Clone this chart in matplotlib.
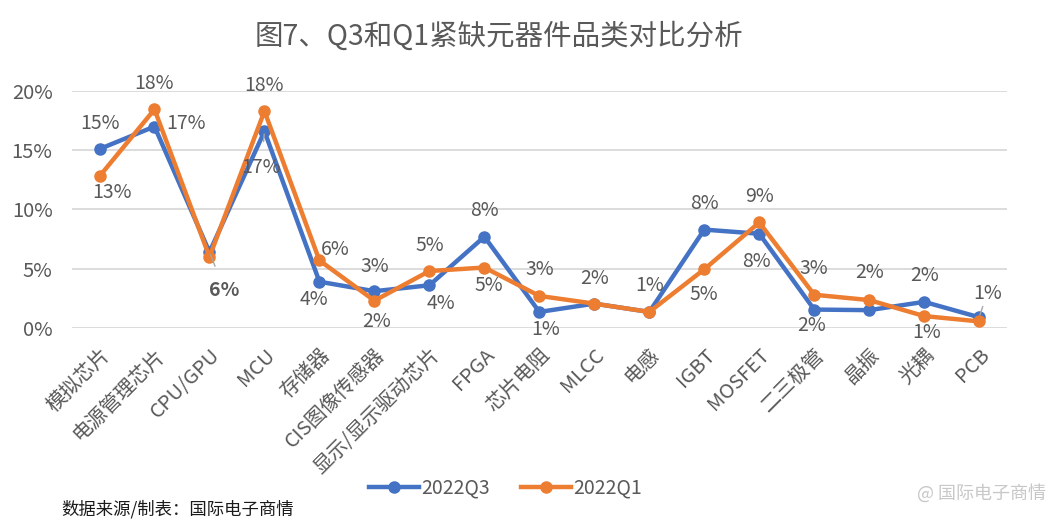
import matplotlib
matplotlib.use('Agg')
import matplotlib.pyplot as plt
from matplotlib.ticker import PercentFormatter

plt.rcParams['font.family'] = ['Noto Sans CJK SC', 'DejaVu Sans']

categories = ['模拟芯片', '电源管理芯片', 'CPU/GPU', 'MCU', '存储器', 'CIS图像传感器',
              '显示/显示驱动芯片', 'FPGA', '芯片电阻', 'MLCC', '电感', 'IGBT', 'MOSFET',
              '二三极管', '晶振', '光耦', 'PCB']
q3 = [15.1, 17.0, 6.4, 16.6, 3.9, 3.1, 3.6, 7.7, 1.35, 2.05, 1.35, 8.3, 7.95, 1.55, 1.5, 2.2, 0.9]
q1 = [12.8, 18.45, 6.0, 18.3, 5.7, 2.3, 4.8, 5.1, 2.7, 2.05, 1.35, 4.95, 8.9, 2.8, 2.35, 1.0, 0.55]

# label offsets in pixels (dx, dy), None = no label
q3_off = [(0, 26), (32, 3), (15, -38), (-3, -36), (-5, -18), (0, 25), (12, -18), (0, 26),
          (6, -18), (0, 25), (0, 26), (0, 26), (-3, -28), (-3, -16), None, (0, 26), (8, 24)]
q1_off = [(12, -16), (0, 26), None, (0, 26), (16, 11), (2, -21), (0, 26), (4, -18),
          (0, 26), None, None, (0, -25), (0, 26), (0, 26), (0, 28), (2, -16), None]
# thin leader lines for labels far from their point (q3 index)
leaders = [2, 3, 16]

blue = '#4472C4'
orange = '#ED7D31'
txt = '#595959'

fig = plt.figure(figsize=(10.53, 5.23), dpi=100)
ax = fig.add_axes([0.0684, 0.373, 0.8876, 0.453])

x = list(range(len(categories)))
ax.plot(x, q3, color=blue, lw=3.2, marker='o', ms=8, label='2022Q3', zorder=3)
ax.plot(x, q1, color=orange, lw=3.2, marker='o', ms=8, label='2022Q1', zorder=4)

for name, vals, offs in [('q3', q3, q3_off), ('q1', q1, q1_off)]:
    for i, v in enumerate(vals):
        if offs[i] is None:
            continue
        dx, dy = offs[i]
        bold = 'bold' if (name == 'q3' and i == 2) else 'normal'
        arrow = None
        if name == 'q3' and i in leaders:
            arrow = dict(arrowstyle='-', color='#a6a6a6', lw=1, shrinkA=9, shrinkB=2)
        ax.annotate(f'{v:.0f}%', (i, v), xytext=(dx * 0.72, dy * 0.72),
                    textcoords='offset points', ha='center', va='center',
                    fontsize=14, color=txt, fontweight=bold, annotation_clip=False,
                    arrowprops=arrow, zorder=5)

ax.set_xlim(-0.5, len(categories) - 0.5)
ax.set_ylim(0, 20)
ax.set_yticks([0, 5, 10, 15, 20])
ax.yaxis.set_major_formatter(PercentFormatter(decimals=0))
ax.grid(axis='y', color='#D9D9D9', lw=1.3)
ax.set_axisbelow(True)
for s in ax.spines.values():
    s.set_visible(False)
ax.tick_params(length=0, labelsize=14.5, labelcolor=txt)
ax.tick_params(axis='y', pad=14)
ax.tick_params(axis='x', pad=12)
ax.set_xticks(x)
ax.set_xticklabels(categories, rotation=45, ha='right', va='top', rotation_mode='anchor')

fig.suptitle('图7、Q3和Q1紧缺元器件品类对比分析', x=0.474, y=0.958, fontsize=20.5, color=txt)

fig.legend(loc='center', bbox_to_anchor=(0.48, 0.067), ncol=2, frameon=False,
           fontsize=14, labelcolor=txt, handlelength=2.6, handletextpad=0.1, columnspacing=1.6)

fig.text(0.058, 0.027, '数据来源/制表：国际电子商情', fontsize=12.5, color='#1a1a1a', va='center')
fig.text(0.993, 0.057, '@ 国际电子商情', fontsize=13, color='#c8c8c8', ha='right', va='center')

fig.savefig('out.png', dpi=100)
